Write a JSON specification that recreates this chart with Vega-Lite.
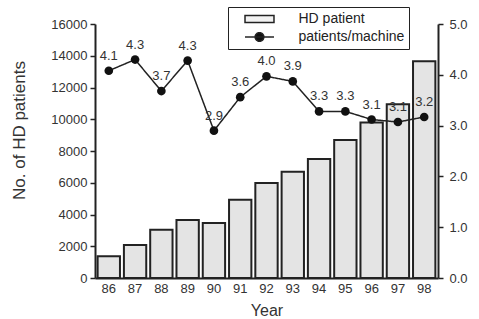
{
  "$schema": "https://vega.github.io/schema/vega-lite/v6.json",
  "width": 343,
  "height": 254,
  "autosize": "none",
  "padding": {"left": 95, "top": 24, "right": 41, "bottom": 41},
  "background": "white",
  "config": {
    "font": "Liberation Sans",
    "view": {"stroke": null},
    "axis": {
      "labelFont": "Liberation Sans",
      "labelFontSize": 13,
      "labelColor": "#333",
      "domainColor": "#222",
      "domainWidth": 2,
      "tickColor": "#222",
      "tickWidth": 1.5,
      "grid": false,
      "titleFont": "Liberation Sans",
      "titleFontWeight": "normal",
      "titleFontSize": 16,
      "titleColor": "#333"
    }
  },
  "data": {
    "values": [
      {"year": "86", "patients": 1370, "ratio": 4.08, "label": "4.1"},
      {"year": "87", "patients": 2080, "ratio": 4.3, "label": "4.3"},
      {"year": "88", "patients": 3040, "ratio": 3.68, "label": "3.7"},
      {"year": "89", "patients": 3650, "ratio": 4.28, "label": "4.3"},
      {"year": "90", "patients": 3460, "ratio": 2.9, "label": "2.9"},
      {"year": "91", "patients": 4930, "ratio": 3.56, "label": "3.6"},
      {"year": "92", "patients": 5980, "ratio": 3.97, "label": "4.0"},
      {"year": "93", "patients": 6690, "ratio": 3.87, "label": "3.9"},
      {"year": "94", "patients": 7500, "ratio": 3.28, "label": "3.3"},
      {"year": "95", "patients": 8690, "ratio": 3.28, "label": "3.3"},
      {"year": "96", "patients": 9800, "ratio": 3.12, "label": "3.1"},
      {"year": "97", "patients": 10950, "ratio": 3.07, "label": "3.1"},
      {"year": "98", "patients": 13650, "ratio": 3.17, "label": "3.2"}
    ]
  },
  "encoding": {
    "x": {
      "field": "year",
      "type": "ordinal",
      "scale": {"paddingInner": 0.15, "paddingOuter": 0.1},
      "axis": {"labelAngle": 0, "ticks": false, "title": "Year", "labelPadding": 4, "titlePadding": 7}
    }
  },
  "layer": [
    {
      "mark": {"type": "bar", "fill": "#e4e4e4", "stroke": "#222", "strokeWidth": 2},
      "encoding": {
        "y": {
          "field": "patients",
          "type": "quantitative",
          "scale": {"domain": [0, 16000]},
          "axis": {"title": "No. of HD patients", "titleFontSize": 17, "titleY": 106, "values": [0, 2000, 4000, 6000, 8000, 10000, 12000, 14000, 16000], "format": "d", "tickSize": 5, "labelPadding": 3, "titlePadding": 22}
        }
      }
    },
    {
      "encoding": {
        "y": {
          "field": "ratio",
          "type": "quantitative",
          "scale": {"domain": [0, 5]},
          "axis": {"orient": "right", "title": null, "values": [0, 1, 2, 3, 4, 5], "format": ".1f", "tickSize": 5, "labelPadding": 6}
        }
      },
      "layer": [
        {
          "mark": {"type": "line", "color": "#222", "strokeWidth": 1.5},
          "encoding": {
            "strokeDash": {
              "datum": "patients/machine",
              "scale": {"domain": ["HD patient", "patients/machine"], "range": [[1, 0], [1, 0]]},
              "legend": {
                "title": null,
                "orient": "none",
                "legendX": 133,
                "legendY": -17,
                "strokeColor": "#222",
                "fillColor": "white",
                "padding": 4,
                "rowPadding": 3,
                "symbolSize": 196,
                "symbolOffset": 19.5,
                "symbolStrokeWidth": 1.5,
                "symbolStrokeColor": "#222",
                "labelFontSize": 14,
                "labelColor": "#222",
                "labelFont": "Liberation Sans",
                "labelOffset": 31,
                "labelExpr": "datum.label + '        '",
                "encode": {
                  "symbols": {
                    "update": {
                      "shape": {"signal": "datum.value === 'HD patient' ? 'M-2.07,-0.5H2.07V0.5H-2.07Z' : 'M-2.07,0H2.07M-0.62,0A0.62,0.62 0 1,0 0.62,0A0.62,0.62 0 1,0 -0.62,0'"},
                      "fill": {"signal": "datum.value === 'HD patient' ? '#f2f2f2' : '#111'"},
                      "stroke": {"value": "#222"},
                      "strokeWidth": {"value": 1.5},
                      "strokeDash": {"value": []}
                    }
                  }
                }
              }
            }
          }
        },
        {
          "mark": {"type": "point", "filled": true, "color": "#111", "size": 75, "opacity": 1}
        },
        {
          "mark": {"type": "text", "dy": -15, "fontSize": 13, "color": "#333", "font": "Liberation Sans"},
          "encoding": {"text": {"field": "label"}}
        }
      ]
    }
  ],
  "resolve": {"scale": {"y": "independent"}}
}
